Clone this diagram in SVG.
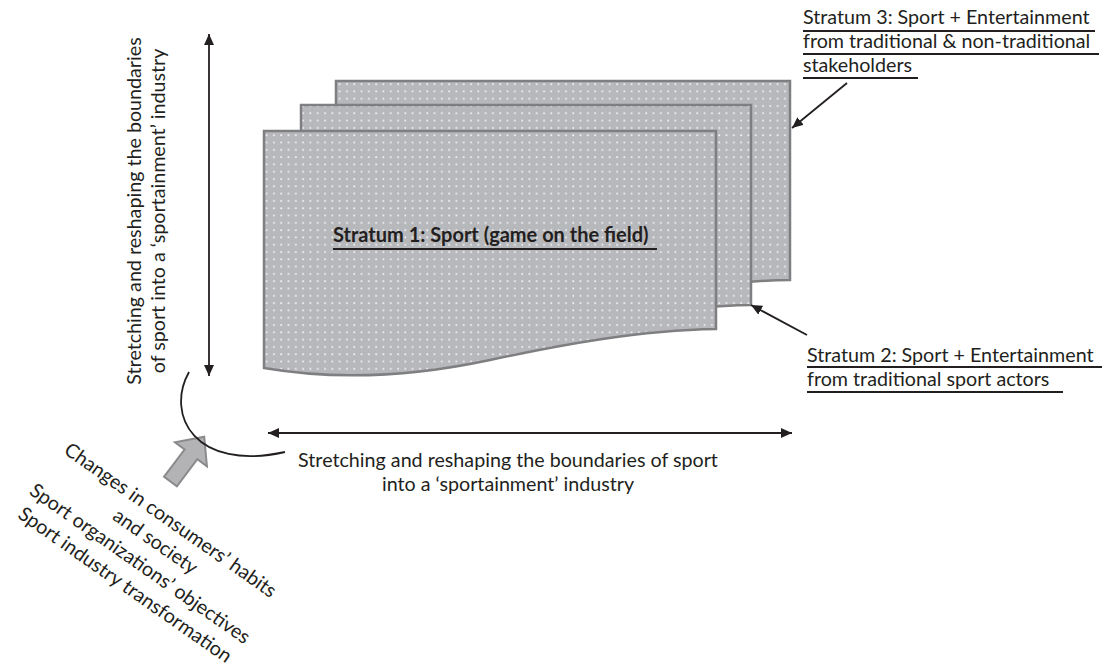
<svg xmlns="http://www.w3.org/2000/svg" width="1107" height="666" viewBox="0 0 1107 666">
<style>
  .t { font-family: Lato, "Open Sans", "Liberation Sans", sans-serif; font-size: 19.7px; fill: #231f20; }
  .b { font-weight: bold; font-size: 20px; }
  .sheet { fill: url(#dots); stroke: #7f7f82; stroke-width: 2.5; stroke-linejoin: miter; }
  .ul { stroke: #231f20; stroke-width: 1.8; }
  .conn { stroke: #231f20; stroke-width: 1.8; fill: none; }
</style>
<defs>
  <pattern id="dots" patternUnits="userSpaceOnUse" width="7.3" height="7.3">
    <rect width="7.3" height="7.3" fill="#b7b8bb"/>
    <rect x="3" y="3" width="1.7" height="1.7" fill="#f4f4f6"/>
  </pattern>
  <marker id="ah" markerUnits="userSpaceOnUse" markerWidth="12" markerHeight="10" refX="11" refY="5" orient="auto-start-reverse">
    <path d="M0,0 L11,5 L0,10 Z" fill="#231f20"/>
  </marker>
</defs>
<rect width="1107" height="666" fill="#ffffff"/>

<g id="stratum3">
  <path class="sheet" d="M336,81 H790 V280 C714,281 634,296 564,311 C494,326 412,332 336,319 Z"/>
</g>
<g id="stratum2">
  <path class="sheet" d="M301,105 H751 V305 C675,306 595,321 525,336 C455,351 375,357 301,344 Z"/>
</g>
<g id="stratum1">
  <path class="sheet" d="M264,131 H716 V329 C640,330 560,345 490,360 C420,375 340,381 264,368 Z"/>
  <text class="t b" x="333" y="242">Stratum 1: Sport (game on the field)</text>
  <line class="ul" x1="333" y1="249" x2="657" y2="249"/>
</g>

<g id="label3">
  <text class="t" x="803" y="24">Stratum 3: Sport + Entertainment</text>
  <line class="ul" x1="803" y1="31" x2="1095" y2="31"/>
  <text class="t" x="803" y="48">from traditional &amp; non-traditional</text>
  <line class="ul" x1="803" y1="54" x2="1099" y2="54"/>
  <text class="t" x="803" y="72">stakeholders</text>
  <line class="ul" x1="803" y1="78" x2="918" y2="78"/>
</g>
<g id="label2">
  <text class="t" x="807" y="362">Stratum 2: Sport + Entertainment</text>
  <line class="ul" x1="807" y1="367" x2="1102" y2="367"/>
  <text class="t" x="807" y="386">from traditional sport actors</text>
  <line class="ul" x1="807" y1="392" x2="1063" y2="392"/>
</g>

<g id="vertical-axis-label">
  <text class="t" text-anchor="middle" transform="translate(141,211) rotate(-90)">Stretching and reshaping the boundaries</text>
  <text class="t" text-anchor="middle" transform="translate(165,211) rotate(-90)">of sport into a ‘sportainment’ industry</text>
</g>
<g id="horizontal-axis-label">
  <text class="t" text-anchor="middle" x="508" y="467">Stretching and reshaping the boundaries of sport</text>
  <text class="t" text-anchor="middle" x="508" y="491">into a ‘sportainment’ industry</text>
</g>

<g id="drivers">
  <polygon points="0,-8 34,-8 34,-20 56,0 34,20 34,8 0,8" fill="#b3b3b5" stroke="#8a8a8d" stroke-width="2" transform="translate(170.5,481.5) rotate(-53)"/>
  <g transform="rotate(35)">
    <text class="t" text-anchor="middle" x="438" y="335">Changes in consumers’ habits</text>
    <text class="t" text-anchor="middle" x="438" y="361">and society</text>
    <text class="t" text-anchor="middle" x="438" y="388">Sport organizations’ objectives</text>
    <text class="t" text-anchor="middle" x="438" y="414">Sport industry transformation</text>
  </g>
</g>

<g id="connectors">
  <line class="conn" x1="209" y1="34" x2="209" y2="376" marker-start="url(#ah)" marker-end="url(#ah)"/>
  <line class="conn" x1="268" y1="433" x2="792" y2="433" marker-start="url(#ah)" marker-end="url(#ah)"/>
  <path class="conn" d="M189,372 C165,415 195,472 285,452" stroke-width="1.3"/>
  <line class="conn" x1="847" y1="83" x2="792" y2="128" marker-end="url(#ah)"/>
  <line class="conn" x1="807" y1="335" x2="751" y2="305" marker-end="url(#ah)"/>
</g>
</svg>
